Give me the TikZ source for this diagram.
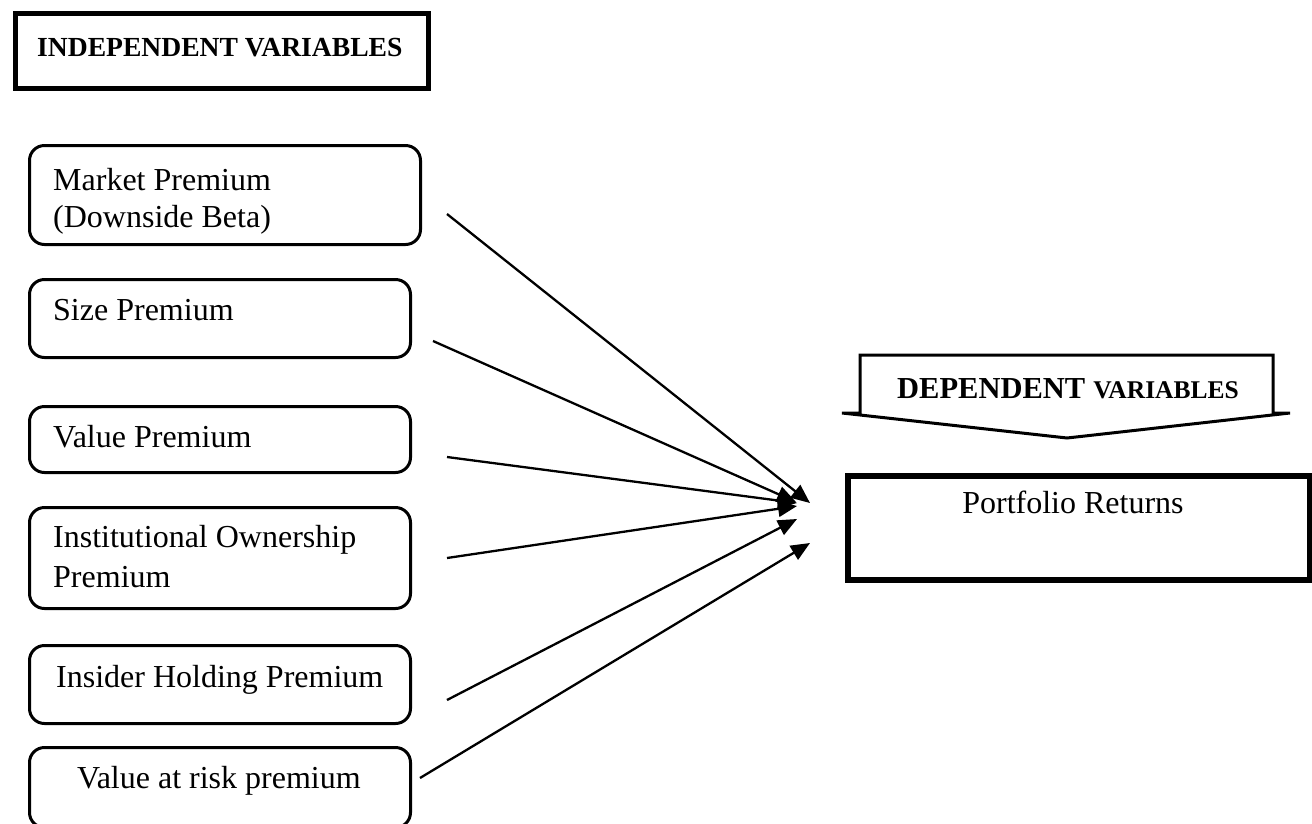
\documentclass[tikz,border=0pt]{standalone}
\usepackage{fontspec}
\setmainfont{Liberation Serif}
\usetikzlibrary{arrows.meta,calc}
\begin{document}
\begin{tikzpicture}[x=1pt,y=-1pt,
  vbox/.style={draw, line width=3pt, rounded corners=15pt, anchor=north west, inner sep=0pt},
  lbl/.style={font=\fontsize{32}{38}\selectfont, anchor=base west, inner sep=0pt},
  conn/.style={line width=2.3pt, -{Triangle[length=19pt,width=16pt]}}]
\useasboundingbox (0,0) rectangle (1312,823);

% header
\node[draw, line width=5pt, anchor=north west, minimum width=413pt, minimum height=75pt, inner sep=0pt] (hdr) at (12.5,10.5) {};
\node[anchor=base west, inner sep=0pt, font=\bfseries\fontsize{27.6}{32}\selectfont] (hdrT) at (37,56) {INDEPENDENT VARIABLES};

% independent variable boxes
\node[vbox, minimum width=391pt, minimum height=99pt] (mkt) at (28,144) {};
\node[lbl] (mktA) at (53,190) {Market Premium};
\node[lbl] (mktB) at (53,227) {(Downside Beta)};

\node[vbox, minimum width=381pt, minimum height=78pt] (siz) at (28,278) {};
\node[lbl] (sizT) at (53,320) {Size Premium};

\node[vbox, minimum width=381pt, minimum height=66pt] (val) at (28,405) {};
\node[lbl] (valT) at (53,447) {Value Premium};

\node[vbox, minimum width=381pt, minimum height=101pt] (ins) at (28,506) {};
\node[lbl] (insA) at (53,547) {Institutional Ownership};
\node[lbl] (insB) at (53,587) {Premium};

\node[vbox, minimum width=381pt, minimum height=78pt] (hol) at (28,644) {};
\node[lbl] (holT) at (56,687) {Insider Holding Premium};

\node[vbox, minimum width=381pt, minimum height=80pt] (var) at (28,746) {};
\node[lbl] (varT) at (77,788) {Value at risk premium};

% dependent variables banner
\draw[line width=3pt, line join=miter] (860,413) -- (860,355) -- (1273,355) -- (1273,413) -- (1290,413) -- (1067,438) -- (842,413) -- cycle;
\node[anchor=base west, inner sep=0pt, font=\bfseries] (depT) at (897,398) {{\fontsize{30.5}{34}\selectfont DEPENDENT}\hspace{8pt}{\fontsize{25.5}{29}\selectfont VARIABLES}};

% portfolio returns
\node[draw, line width=6pt, anchor=north west, minimum width=462pt, minimum height=104pt, inner sep=0pt] (port) at (845,473) {};
\node[anchor=base, inner sep=0pt, font=\fontsize{32}{38}\selectfont] (portT) at (1073,513) {Portfolio Returns};

% connector end points
\coordinate (s1) at (447,214); \coordinate (e1) at (810,503);
\coordinate (s2) at (433,341); \coordinate (e2) at (796,502);
\coordinate (s3) at (447,457); \coordinate (e3) at (797,503);
\coordinate (s4) at (447,558); \coordinate (e4) at (797,506);
\coordinate (s5) at (447,700); \coordinate (e5) at (797,519);
\coordinate (s6) at (420,778); \coordinate (e6) at (810,543);

\draw[conn] (s1) -- (e1);
\draw[conn] (s2) -- (e2);
\draw[conn] (s3) -- (e3);
\draw[conn] (s4) -- (e4);
\draw[conn] (s5) -- (e5);
\draw[conn] (s6) -- (e6);
\end{tikzpicture}
\end{document}
